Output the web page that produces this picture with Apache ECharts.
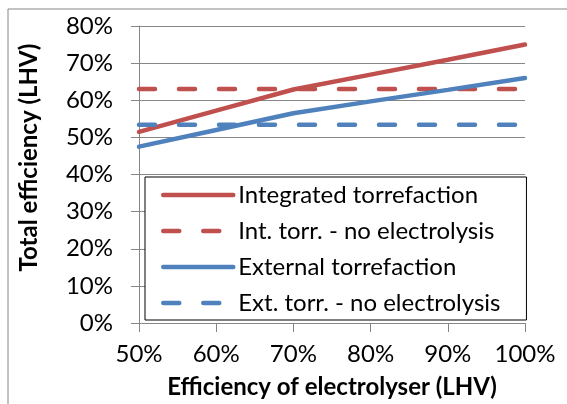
<!DOCTYPE html>
<html lang="en">
<head>
    <meta charset="UTF-8">
    <title>Total efficiency vs electrolyser efficiency</title>
    <script src="https://cdn.jsdelivr.net/npm/echarts@6/dist/echarts.min.js"></script>
</head>
<body style="margin:0;background:#fff;">
<div id="main" style="width:567px;height:404px;"></div>
<script type="text/javascript">
    // electrolyser efficiency (x) and total efficiency (y)
    var electrolyserEff = [0.5, 0.6, 0.7, 0.8, 0.9, 1.0];
    var integratedTorr = [0.515, 0.572, 0.629, 0.669, 0.709, 0.75];
    var intTorrNoElec = [0.63, 0.63, 0.63, 0.63, 0.63, 0.63];
    var externalTorr = [0.475, 0.52, 0.565, 0.597, 0.628, 0.66];
    var extTorrNoElec = [0.534, 0.534, 0.534, 0.534, 0.534, 0.534];
    var seriesNames = ['Integrated torrefaction', 'Int. torr. - no electrolysis',
        'External torrefaction', 'Ext. torr. - no electrolysis'];

    var RED = '#C0504D';
    var BLUE = '#4F81BD';
    var GREY = '#868686';
    var FONT = 'Lato';
    var DASH = [16, 24];

    function pairs(ys) {
        return electrolyserEff.map(function (x, i) { return [x, ys[i]]; });
    }
    function pct(v) { return Math.round(v * 100) + '%'; }

    function line(name, ys, color, dashed) {
        return {
            name: name,
            type: 'line',
            data: pairs(ys),
            symbol: 'none',
            silent: true,
            lineStyle: {
                color: color,
                width: 4.5,
                type: dashed ? DASH : 'solid',
                cap: 'round'
            },
            itemStyle: {color: color}
        };
    }
    function legendItem(name, color, dashed) {
        return {
            name: name,
            itemStyle: {opacity: 0},
            lineStyle: {color: color, width: 4.5, type: dashed ? DASH : 'solid', cap: 'round'}
        };
    }

    var myChart = echarts.init(document.getElementById('main'));
    var option = {
        backgroundColor: '#fff',
        animation: false,
        textStyle: {fontFamily: FONT},
        graphic: [{
            type: 'rect',
            shape: {x: 8, y: 9, width: 600, height: 420},
            style: {fill: 'none', stroke: GREY, lineWidth: 1},
            silent: true
        }],
        grid: {left: 139, right: 42, top: 26, bottom: 81},
        xAxis: {
            type: 'value',
            min: 0.5,
            max: 1.0,
            interval: 0.1,
            name: 'Efficiency of electrolyser (LHV)',
            nameLocation: 'middle',
            nameGap: 52,
            nameTextStyle: {fontFamily: FONT, fontWeight: 'bold', fontSize: 24, color: '#000'},
            axisLine: {lineStyle: {color: GREY, width: 1}},
            axisTick: {show: true, inside: false, length: 9, lineStyle: {color: GREY}},
            axisLabel: {formatter: pct, fontFamily: FONT, fontSize: 24, color: '#000', margin: 19},
            splitLine: {show: false}
        },
        yAxis: {
            type: 'value',
            min: 0,
            max: 0.8,
            interval: 0.1,
            name: 'Total efficiency (LHV)',
            nameLocation: 'middle',
            nameRotate: 90,
            nameGap: 98,
            nameTextStyle: {fontFamily: FONT, fontWeight: 'bold', fontSize: 24, color: '#000', padding: [0, 0, 0, 34]},
            axisLine: {show: true, lineStyle: {color: GREY, width: 1}},
            axisTick: {show: true, inside: false, length: 8, lineStyle: {color: GREY}},
            axisLabel: {formatter: pct, fontFamily: FONT, fontSize: 24, color: '#000', margin: 26},
            splitLine: {show: true, lineStyle: {color: GREY, width: 1.2}}
        },
        legend: {
            data: [
                legendItem(seriesNames[0], RED, false),
                legendItem(seriesNames[1], RED, true),
                legendItem(seriesNames[2], BLUE, false),
                legendItem(seriesNames[3], BLUE, true)
            ],
            orient: 'vertical',
            left: 145,
            top: 177,
            padding: [5, 26, 4, 16],
            itemGap: 10,
            itemWidth: 70,
            itemHeight: 14,
            backgroundColor: '#fff',
            borderColor: '#000',
            borderWidth: 1,
            borderRadius: 0,
            selectedMode: false,
            textStyle: {fontFamily: FONT, fontSize: 24, color: '#000', lineHeight: 26}
        },
        series: [
            line(seriesNames[0], integratedTorr, RED, false),
            line(seriesNames[1], intTorrNoElec, RED, true),
            line(seriesNames[2], externalTorr, BLUE, false),
            line(seriesNames[3], extTorrNoElec, BLUE, true)
        ]
    };
    myChart.setOption(option);
</script>
</body>
</html>
